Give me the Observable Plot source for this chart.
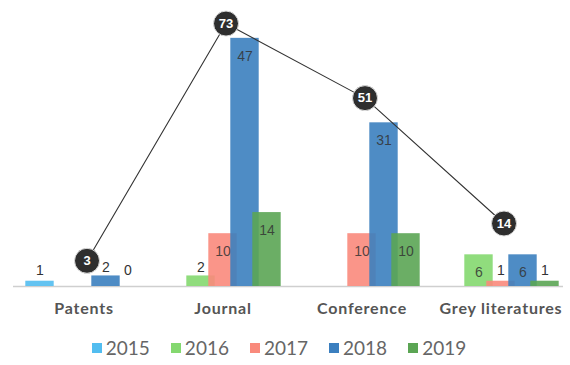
<!DOCTYPE html>
<html>
<head>
<meta charset="utf-8">
<script src="https://cdn.jsdelivr.net/npm/d3@7"></script>
<script src="https://cdn.jsdelivr.net/npm/@observablehq/plot@0.6"></script>
<style>
  body { margin: 0; background: #fff; width: 570px; height: 365px; overflow: hidden; }
  #chart svg { display: block; }
  #legend { display: flex; justify-content: center; align-items: center; gap: 21px; height: 35px; padding-right: 12px; padding-top: 0px;
            font-family: Lato, "Open Sans", sans-serif; font-size: 19px; color: #666; }
  #legend .item { display: flex; align-items: center; }
  #legend .sw { width: 10px; height: 10px; margin-right: 4px; }
</style>
</head>
<body>
<div id="chart"></div>
<div id="legend"></div>
<script>
const categories = ["Patents", "Journal", "Conference", "Grey literatures"];
const years = ["2015", "2016", "2017", "2018", "2019"];
// null = no bar / no label shown
const v2015 = [1, null, null, null];
const v2016 = [null, 2, null, 6];
const v2017 = [null, 10, 10, 1];
const v2018 = [2, 47, 31, 6];
const v2019 = [0, 14, 10, 1];
const totals = [3, 73, 51, 14];
const colors = ["#52bdf0", "#84d86f", "#f98a7c", "#3b7fbf", "#5ba554"];

const series = [v2015, v2016, v2017, v2018, v2019];
const rows = [];
series.forEach((vals, k) => vals.forEach((v, i) => {
  if (v !== null) rows.push({category: categories[i], year: years[k], value: v, k});
}));
const totalRows = categories.map((c, i) => ({category: c, total: totals[i]}));
// the totals line uses its own (secondary) vertical scale, mapped into the bar units
const totalScale = d3.scaleLinear().domain([0, 73]).range([2.94, 49.8]);

const marks = [Plot.ruleY([0], {stroke: "#cfcfcf", strokeWidth: 1.5})];
years.forEach((y, k) => {
  const data = rows.filter(d => d.k === k);
  marks.push(Plot.barY(data, {
    x: "category", y: "value", fill: colors[k], fillOpacity: 0.9,
    dx: (k - 2) * 22, insetLeft: 55.3, insetRight: 55.3
  }));
});
years.forEach((y, k) => {
  const data = rows.filter(d => d.k === k);
  marks.push(Plot.text(data.filter(d => d.value >= 5), {
    x: "category", y: "value", text: d => String(d.value), dx: (k - 2) * 22, dy: 18,
    fill: "#333", fillOpacity: 0.85, fontSize: 14, fontFamily: "Liberation Sans, Arial, sans-serif"
  }));
  marks.push(Plot.text(data.filter(d => d.value < 5), {
    x: "category", y: d => Math.max(d.value, 1.5), text: d => String(d.value), dx: (k - 2) * 22, dy: -8,
    fill: "#333", fontSize: 14, fontFamily: "Liberation Sans, Arial, sans-serif"
  }));
});
marks.push(
  Plot.line(totalRows, {x: "category", y: d => totalScale(d.total), dx: 3, stroke: "#333", strokeWidth: 1.1}),
  Plot.dot(totalRows, {x: "category", y: d => totalScale(d.total), dx: 3, r: 12.5, fill: "#2e2e2e", stroke: "#ddd", strokeWidth: 1}),
  Plot.text(totalRows, {x: "category", y: d => totalScale(d.total), dx: 3, text: d => String(d.total),
    fill: "white", fontWeight: "bold", fontSize: 13, fontFamily: "Liberation Sans, Arial, sans-serif"}),
  Plot.axisX({tickSize: 0, tickPadding: 16, fontSize: 16, fontWeight: "bold", fill: "#555", label: null})
);

const chart = Plot.plot({
  width: 570,
  height: 330,
  marginTop: 22,
  marginBottom: 44,
  marginLeft: 13,
  marginRight: 7,
  style: {fontFamily: "Lato, sans-serif", background: "white", overflow: "visible"},
  x: {domain: categories, range: [13.5, 569.5], padding: 0, axis: null},
  y: {domain: [0, 50], axis: null},
  marks
});
d3.select(chart).selectAll("g[aria-label='x-axis tick label'] text").style("letter-spacing", "0.8px");
document.getElementById("chart").appendChild(chart);

const legend = document.getElementById("legend");
years.forEach((y, k) => {
  const item = document.createElement("div");
  item.className = "item";
  const sw = document.createElement("span");
  sw.className = "sw";
  sw.style.background = colors[k];
  const t = document.createElement("span");
  t.textContent = y;
  item.appendChild(sw); item.appendChild(t);
  legend.appendChild(item);
});
</script>
</body>
</html>
